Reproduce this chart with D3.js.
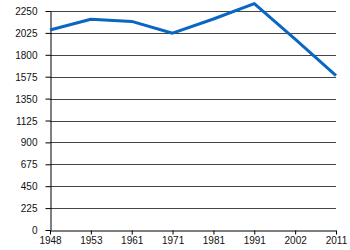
<!DOCTYPE html>
<html>

<head>
  <meta charset="utf-8">
  <style>
    body {
      margin: 0;
      background: #fff;
    }

    #chart text {
      font-family: "Liberation Sans", Arial, sans-serif;
      font-size: 10px;
      fill: #111;
    }

    #chart .grid line {
      stroke: #444;
      stroke-width: 1;
    }

    #chart .axis path,
    #chart .axis line {
      stroke: #000;
    }

    #chart .series {
      fill: none;
      stroke: #0a66c2;
      stroke-width: 3;
      stroke-linejoin: round;
    }
  </style>
</head>

<body>
  <svg id="chart" width="350" height="250"></svg>

  <script src="https://d3js.org/d3.v7.min.js"></script>
  <script>
    var years = ['1948', '1953', '1961', '1971', '1981', '1991', '2002', '2011'];
    var population = [2055, 2166, 2143, 2022, 2168, 2326, 1960, 1587];
    var yTicks = [0, 225, 450, 675, 900, 1125, 1350, 1575, 1800, 2025, 2250];

    var margin = { top: 11, right: 14, bottom: 20, left: 50 },
      width = 350,
      height = 250;

    var svg = d3.select('#chart');

    var x = d3.scalePoint()
      .domain(years)
      .range([margin.left, width - margin.right]);

    var y = d3.scaleLinear()
      .domain([0, 2250])
      .range([height - margin.bottom, margin.top]);

    // horizontal grid
    svg.append('g')
      .attr('class', 'grid')
      .selectAll('line')
      .data(yTicks.slice(1))
      .join('line')
      .attr('x1', margin.left)
      .attr('x2', width - margin.right)
      .attr('y1', d => Math.round(y(d)) + 0.5)
      .attr('y2', d => Math.round(y(d)) + 0.5);

    var yAxis = svg.append('g')
      .attr('class', 'axis')
      .attr('transform', 'translate(' + (margin.left + 0.5) + ',0)')
      .call(d3.axisLeft(y).tickValues(yTicks).tickFormat(d3.format('d'))
        .tickSize(5).tickPadding(8).tickSizeOuter(0));
    yAxis.selectAll('text').attr('dy', '0.35em');

    var xAxis = svg.append('g')
      .attr('class', 'axis')
      .attr('transform', 'translate(0,' + (height - margin.bottom + 0.5) + ')')
      .call(d3.axisBottom(x).tickSize(4).tickPadding(2).tickSizeOuter(0));

    svg.selectAll('.axis .domain').attr('stroke', '#000');
    svg.selectAll('.axis text').attr('fill', '#111');

    var line = d3.line()
      .x((d, i) => x(years[i]))
      .y(d => y(d));

    svg.append('path')
      .datum(population)
      .attr('class', 'series')
      .attr('d', line);
  </script>
</body>

</html>
